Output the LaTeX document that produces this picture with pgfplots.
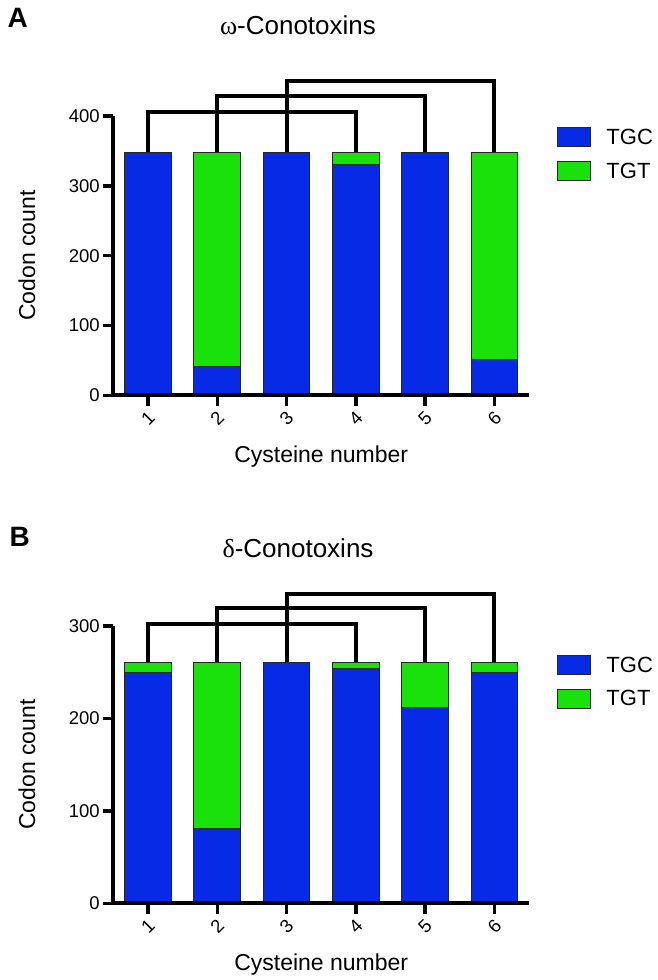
\documentclass[border=0pt]{standalone}
\usepackage{pgfplots}
\pgfplotsset{compat=1.18}
\usepackage{fontspec}
\setmainfont{Liberation Sans}
\newfontfamily\greekfont{Liberation Serif}

\definecolor{tgc}{RGB}{6,42,230}
\definecolor{tgt}{RGB}{25,225,10}

\pgfplotsset{
  codon/.style={
    scale only axis,
    width=415.8pt,
    anchor=south west,
    xmin=0.5, xmax=6.5,
    ymin=0,
    ybar stacked,
    bar width=46.7pt,
    axis x line=bottom,
    axis y line=left,
    axis on top,
    axis line style={-, line width=4pt},
    tick style={line width=3.5pt, black},
    tick align=outside,
    major tick length=10pt,
    xtick={1,2,3,4,5,6},
    clip=false,
    /pgf/number format/assume math mode=true,
    tick label style={font=\fontsize{18.5}{22}\selectfont},
    xticklabel style={rotate=45, anchor=center},
    xticklabel shift=13pt,
    xlabel={Cysteine number},
    ylabel={Codon count},
    every axis x label/.style={at={(axis description cs:0.5,0)}, anchor=base, yshift=-66.7pt,
      font=\fontsize{23}{27}\selectfont},
    every axis y label/.style={at={(axis description cs:-0.2076,0.5)}, anchor=center, rotate=90,
      font=\fontsize{23}{27}\selectfont},
    legend style={draw=none, fill=none, anchor=north west, font=\fontsize{22}{26}\selectfont,
      row sep=13.8pt, column sep=15pt, inner sep=0pt, nodes={inner sep=0pt}},
    legend cell align=left,
    legend image code/.code={\draw[#1, line width=1pt] (0pt,-9.5pt) rectangle (33pt,9.5pt);},
  },
  overlay/.style={
    scale only axis, width=415.8pt, anchor=south west,
    xmin=0.5, xmax=6.5, ymin=0,
    axis lines=none, clip=false,
  },
  bars/.style={draw=black!85, line width=1pt},
  bridge/.style={black, line width=4pt, forget plot, no marks, sharp plot},
  xticks/.style={ycomb, black, line width=3.5pt, no marks, forget plot},
}

\begin{document}
\begin{tikzpicture}[x=1pt,y=1pt]
\path[use as bounding box] (0,0) rectangle (658,980);

% panel A
\node[anchor=base west, font=\bfseries\fontsize{28}{32}\selectfont] at (4,952) {A};
\node[anchor=base, font=\fontsize{26}{30}\selectfont] at (298,945) {{\greekfont ω}-Conotoxins};
\begin{axis}[codon,
  at={(113.3pt,584.5pt)},
  height=279.5pt,
  ymax=400,
  ytick={0,100,200,300,400},
  legend style={at={(axis description cs:1.0678,0.9596)}},
]
\addplot[bars, fill=tgc] coordinates {(1,348) (2,42) (3,348) (4,330) (5,348) (6,51)};
\addplot[bars, fill=tgt] coordinates {(1,0) (2,306) (3,0) (4,18) (5,0) (6,297)};
\legend{TGC,TGT}
\end{axis}
\begin{axis}[overlay, at={(113.3pt,584.5pt)}, height=279.5pt, ymax=400]
% disulfide connectivity C1-C4, C2-C5, C3-C6
\addplot[bridge] coordinates {(1,348) (1,406) (4,406) (4,348)};
\addplot[bridge] coordinates {(2,348) (2,429) (5,429) (5,348)};
\addplot[bridge] coordinates {(3,348) (3,450) (6,450) (6,348)};
\addplot[xticks] coordinates {(1,-15) (2,-15) (3,-15) (4,-15) (5,-15) (6,-15)};
\end{axis}

% panel B
\node[anchor=base west, font=\bfseries\fontsize{28}{32}\selectfont] at (6,433) {B};
\node[anchor=base, font=\fontsize{26}{30}\selectfont] at (298,422) {{\greekfont δ}-Conotoxins};
\begin{axis}[codon,
  at={(113.3pt,76.7pt)},
  height=277.3pt,
  ymax=300,
  ytick={0,100,200,300},
  legend style={at={(axis description cs:1.0678,0.8954)}},
]
\addplot[bars, fill=tgc] coordinates {(1,250) (2,81) (3,261) (4,254) (5,212) (6,250)};
\addplot[bars, fill=tgt] coordinates {(1,11) (2,180) (3,0) (4,7) (5,49) (6,11)};
\legend{TGC,TGT}
\end{axis}
\begin{axis}[overlay, at={(113.3pt,76.7pt)}, height=277.3pt, ymax=300]
\addplot[bridge] coordinates {(1,261) (1,302) (4,302) (4,261)};
\addplot[bridge] coordinates {(2,261) (2,320) (5,320) (5,261)};
\addplot[bridge] coordinates {(3,261) (3,335) (6,335) (6,261)};
\addplot[xticks] coordinates {(1,-11.4) (2,-11.4) (3,-11.4) (4,-11.4) (5,-11.4) (6,-11.4)};
\end{axis}
\end{tikzpicture}
\end{document}
